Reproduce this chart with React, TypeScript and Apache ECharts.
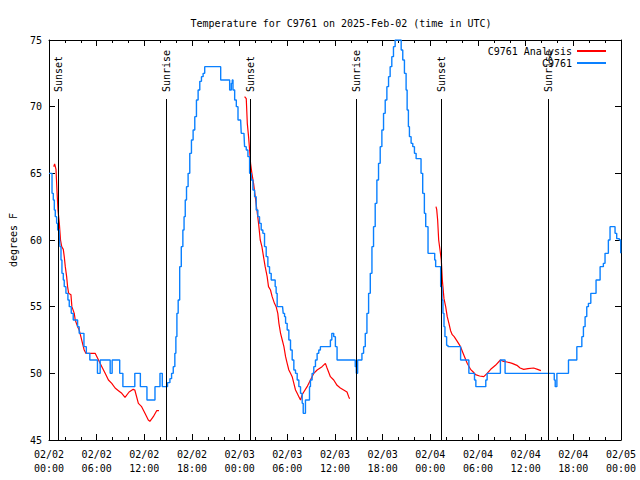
import React, { useEffect, useRef } from "react";
import * as echarts from "echarts";

// Hours since 2025-02-02 00:00 UTC
const START_UTC = Date.UTC(2025, 1, 2, 0, 0);
const X_MIN = 0;
const X_MAX = 72;
const Y_MIN = 45;
const Y_MAX = 75;

const TITLE = "Temperature for C9761 on 2025-Feb-02 (time in UTC)";
const Y_NAME = "degrees F";
const SERIES_ANALYSIS = "C9761 Analysis";
const SERIES_OBS = "C9761";

// Observed station temperatures (C9761)
const obsHours = [
  0, 0.25, 0.38, 0.54, 0.67, 0.79, 0.96, 1.09, 1.3, 1.38, 1.51, 1.63, 1.8, 1.92, 2.13, 2.38, 2.55, 2.8, 3.05, 3.6,
  3.8, 4.4, 4.7, 5.14, 6.1, 6.35, 6.44, 7.7, 7.95, 8.9, 9.3, 10.8, 11.5, 12.33, 13.34, 13.97, 14.26, 14.72, 14.92, 15.22,
  15.43, 15.64, 15.84, 15.97, 16.1, 16.26, 16.45, 16.65, 16.85, 17.0, 17.15, 17.31, 17.51, 17.72, 17.93, 18.14, 18.35, 18.56, 18.77, 18.98,
  19.19, 19.4, 19.6, 21.36, 21.61, 22.53, 22.74, 22.95, 23.07, 23.16, 23.37, 23.58, 23.79, 24.12, 24.2, 24.54, 24.62, 24.83, 25.04, 25.25,
  25.46, 25.67, 25.88, 26.08, 26.29, 26.5, 26.71, 26.92, 27.13, 27.34, 27.55, 27.76, 27.97, 28.2, 28.47, 28.59, 28.72, 29.4, 29.48, 29.65,
  29.78, 29.98, 30.19, 30.4, 30.61, 30.82, 31.03, 31.24, 31.45, 31.66, 31.87, 32.0, 32.28, 32.58, 32.79, 32.91, 33.12, 33.33, 33.54, 33.75,
  33.96, 34.16, 35.29, 35.42, 35.6, 35.84, 36.05, 36.26, 38.35, 38.55, 38.68, 38.85, 39.18, 39.39, 39.6, 39.81, 40.02, 40.23, 40.44, 40.65,
  40.85, 41.06, 41.27, 41.48, 41.69, 41.9, 42.11, 42.32, 42.53, 42.74, 42.94, 43.15, 43.36, 43.57, 44.12, 44.33, 44.53, 44.74, 44.95, 45.08,
  45.24, 45.37, 45.58, 45.79, 46.0, 46.21, 46.62, 46.83, 47.04, 47.25, 47.42, 47.71, 48.38, 48.55, 48.67, 49.21, 49.3, 49.47, 49.59, 49.72,
  49.84, 50.05, 50.22, 51.6, 51.81, 52.64, 52.85, 53.4, 53.56, 53.73, 54.82, 54.98, 55.15, 56.7, 56.82, 57.24, 57.41, 63.43, 63.6, 63.72,
  63.93, 65.27, 65.39, 66.23, 66.44, 66.94, 67.07, 67.27, 67.48, 67.69, 67.9, 68.2, 68.74, 68.86, 69.37, 69.78, 69.99, 70.2, 70.41, 70.62,
  71.12, 71.25, 71.46, 71.79, 71.96, 72,
];
const obsTemps = [
  65, 65, 63.5, 63, 62.25, 61.75, 61.25, 60.75, 60.25, 59.5, 58.5, 57.5, 57, 56.5, 56, 55.5, 55, 54.5, 54, 53.5,
  53, 52, 51.5, 51, 50, 50, 51, 50, 51, 50, 49, 50, 49, 48, 49, 50, 49, 49, 49.3, 49.6,
  50, 50.5, 51.5, 52.75, 54.5, 55.5, 58, 59.5, 60.75, 61.75, 63, 64, 65, 66.5, 67.5, 68.25, 69.25, 70.5, 71.25, 71.9,
  72.25, 72.5, 73, 73, 72, 72, 71.25, 71.75, 72, 71.25, 70.5, 70, 69, 69, 68, 68, 67, 66.75, 66.25, 65,
  64.5, 63.75, 63.25, 62.25, 61.75, 61.25, 60.75, 60.5, 59.5, 58.75, 58, 57.5, 57, 57, 56.5, 56, 55, 55, 54.5, 54.25,
  53.75, 53.25, 52.5, 51.75, 51, 50.25, 50, 49.5, 49, 48.5, 47.75, 47, 48, 48, 49, 49.5, 50, 50.5, 51, 51.5,
  51.75, 52, 52, 52.5, 53, 52.75, 52, 51, 51, 50.5, 50, 51, 51, 51.5, 52, 53, 54.5, 56, 57.5, 59.5,
  61, 62.75, 64.5, 65.75, 67, 68.25, 69.5, 70.5, 71.5, 72.25, 73, 73.75, 74.5, 75, 75, 74.25, 73.5, 72.5, 71.25, 69.75,
  68.5, 67.75, 67.25, 67, 66.5, 66.1, 66.1, 65, 63.5, 62, 61, 59, 59, 58.5, 58, 58, 56.5, 55.5, 54.5, 53.5,
  52.75, 52.1, 52, 52, 51, 51, 50, 50, 49.5, 49, 49, 49.5, 50, 50, 51, 51, 50, 50, 49.5, 49,
  50, 50, 51, 51, 52, 52, 52.75, 53.5, 54.25, 55, 55.25, 56, 56, 57, 58, 58.25, 59, 59, 60, 61,
  61, 60.5, 60.1, 60, 59, 59,
];

// Model analysis temperatures ("-" = gap between runs)
const anaHours = [
  0.59, 0.71, 0.88, 1.0, 1.13, 1.3, 1.45, 1.6, 1.8, 1.92, 2.05, 2.22, 2.34, 2.47, 2.76, 2.88, 3.18, 3.3, 3.6, 3.8,
  4.01, 4.22, 4.43, 4.64, 5.06, 5.81, 6.23, 6.65, 7.07, 7.48, 7.9, 8.32, 8.74, 9.16, 9.57, 10.08, 10.6, 10.8, 11.25, 11.66,
  12.08, 12.5, 12.7, 13.13, 13.55, 13.84, 19,
  24.62, 24.83, 24.96, 25.12, 25.25, 25.37, 25.54, 25.75, 25.96, 26.17, 26.38, 26.59, 26.8, 27.0, 27.21, 27.46, 27.63, 27.88, 28.09, 28.38,
  28.59, 28.8, 28.94, 29.15, 29.36, 29.57, 29.78, 29.98, 30.19, 30.4, 30.61, 30.82, 31.03, 31.24, 31.45, 31.66, 31.87, 32.07, 32.49, 32.91,
  33.33, 33.75, 34.37, 34.79, 35.0, 35.42, 35.84, 36.26, 36.67, 37.09, 37.51, 37.72, 37.84, 43,
  48.71, 48.8, 48.92, 49.05, 49.22, 49.38, 49.51, 49.72, 49.93, 50.13, 50.34, 50.55, 50.76, 51.0, 51.39, 51.8, 52.2, 52.64, 53.06, 53.4,
  53.69, 54.2, 54.73, 55.15, 55.6, 56.2, 56.82, 57.2, 57.66, 58.3, 58.9, 59.3, 59.75, 60.3, 61.0, 61.5, 61.92,
];
const anaTemps: (number | string)[] = [
  65.5, 65.7, 65.3, 63.75, 62.25, 61.25, 60, 59.5, 59.3, 58.75, 58, 57.25, 56.5, 56, 55.9, 55, 54.5, 54, 53.5, 53.25,
  52.75, 52.25, 51.75, 51.5, 51.5, 51.5, 51, 50.5, 50, 49.5, 49.25, 48.9, 48.7, 48.5, 48.2, 48.6, 48.8, 48.75, 47.75, 47.5,
  47, 46.5, 46.4, 46.75, 47.2, 47.2, "-",
  70.75, 70.6, 68.75, 67.75, 66.75, 65.75, 65, 64.25, 63.25, 62.25, 61.25, 60, 59.5, 58.75, 58, 57.25, 56.5, 56.25, 55.75, 55.25,
  55, 54.5, 53.75, 53, 52.5, 52, 51.25, 50.75, 50.25, 50, 49.75, 49.25, 48.75, 48.5, 48.25, 48, 48.4, 48.6, 49, 49.5,
  50, 50.25, 50.5, 50.75, 50.4, 49.75, 49.5, 49.1, 48.9, 48.75, 48.6, 48.25, 48.1, "-",
  62.5, 62.3, 61.5, 60, 59.25, 58.5, 57, 55.6, 55, 54.25, 53.75, 53.2, 52.9, 52.75, 52.4, 52, 51.4, 50.75, 50.3, 50.1,
  49.9, 49.8, 49.75, 50, 50.3, 50.6, 51, 50.9, 50.85, 50.75, 50.6, 50.4, 50.3, 50.35, 50.4, 50.3, 50.2,
];

// Sun events (hours since start)
const sunHours = [1.17, 14.76, 25.29, 38.68, 49.38, 62.8];
const sunLabels = ["Sunset", "Sunrise", "Sunset", "Sunrise", "Sunset", "Sunrise"];

const FONT = '"DejaVu Sans Mono", "Liberation Mono", monospace';
const RED = "#ff0000";
const BLUE = "#0a80ff";

function pad(n: number) {
  return n < 10 ? "0" + n : "" + n;
}
function fmtX(h: number) {
  const d = new Date(START_UTC + h * 3600 * 1000);
  return pad(d.getUTCMonth() + 1) + "/" + pad(d.getUTCDate()) + "\n" + pad(d.getUTCHours()) + ":" + pad(d.getUTCMinutes());
}

export default function App() {
  const ref = useRef<HTMLDivElement>(null);
  useEffect(() => {
    if (!ref.current) return;
    const chart = echarts.init(ref.current, undefined, { renderer: "svg" });
    const obsData = obsHours.map((h, i) => [h, obsTemps[i]]);
    const anaData = anaHours.map((h, i) => [h, anaTemps[i]]);
    const sunData = sunHours.map((h, i) => [h, i]);

    const xBase = {
      type: "value" as const,
      min: X_MIN,
      max: X_MAX,
      interval: 6,
      splitLine: { show: false },
      axisLine: { show: true, onZero: false, lineStyle: { color: "#000", width: 1 } },
      axisTick: { show: true, inside: true, length: 6, lineStyle: { color: "#000" } },
      minorTick: { show: true, splitNumber: 3, length: 3, lineStyle: { color: "#000" } },
    };
    const yBase = {
      type: "value" as const,
      min: Y_MIN,
      max: Y_MAX,
      interval: 5,
      splitLine: { show: false },
      axisLine: { show: true, onZero: false, lineStyle: { color: "#000", width: 1 } },
      axisTick: { show: true, inside: true, length: 6, lineStyle: { color: "#000" } },
    };

    chart.setOption({
      animation: false,
      backgroundColor: "#fff",
      title: {
        text: TITLE,
        left: 336,
        textAlign: "center",
        top: 13,
        textStyle: { fontFamily: FONT, fontSize: 10, fontWeight: "normal", color: "#000" },
      },
      legend: {
        orient: "vertical",
        right: 29,
        top: 40,
        align: "right",
        itemGap: 0,
        itemWidth: 29,
        itemHeight: 2,
        icon: "rect",
        data: [SERIES_ANALYSIS, SERIES_OBS],
        textStyle: { fontFamily: FONT, fontSize: 10, color: "#000", lineHeight: 12 },
      },
      grid: { left: 47, right: 19, top: 40, bottom: 40 },
      xAxis: [
        {
          ...xBase,
          position: "bottom",
          axisLabel: {
            formatter: (v: number) => fmtX(v),
            fontFamily: FONT,
            fontSize: 10,
            color: "#000",
            margin: 7,
            lineHeight: 14,
            showMinLabel: true,
            showMaxLabel: true,
          },
        },
        { ...xBase, position: "top", axisLabel: { show: false } },
      ],
      yAxis: [
        {
          ...yBase,
          position: "left",
          name: Y_NAME,
          nameLocation: "middle",
          nameGap: 31,
          nameTextStyle: { fontFamily: FONT, fontSize: 10, color: "#000" },
          axisLabel: { fontFamily: FONT, fontSize: 10, color: "#000", margin: 7 },
        },
        { ...yBase, position: "right", axisLabel: { show: false } },
      ],
      series: [
        {
          name: SERIES_ANALYSIS,
          type: "line",
          data: anaData,
          showSymbol: false,
          connectNulls: false,
          lineStyle: { color: RED, width: 1.2 },
          itemStyle: { color: RED },
          z: 2,
        },
        {
          name: SERIES_OBS,
          type: "line",
          step: "end",
          data: obsData,
          showSymbol: false,
          lineStyle: { color: BLUE, width: 1.4 },
          itemStyle: { color: BLUE },
          z: 3,
        },
        {
          type: "custom",
          name: "sun",
          data: sunData,
          z: 5,
          encode: { x: 0, y: 1 },
          renderItem: (params: any, api: any) => {
            const t = api.value(0);
            const top = api.coord([t, Y_MAX]);
            const bot = api.coord([t, Y_MIN]);
            const lineTop = top[1] + 59;
            const x = Math.round(bot[0]) + 0.5;
            return {
              type: "group",
              children: [
                {
                  type: "line",
                  shape: { x1: x, y1: lineTop, x2: x, y2: bot[1] },
                  style: { stroke: "#000", lineWidth: 1 },
                },
                {
                  type: "text",
                  x: x,
                  y: lineTop - 7,
                  rotation: Math.PI / 2,
                  style: {
                    text: sunLabels[params.dataIndex],
                    fill: "#000",
                    font: "10px " + FONT,
                    align: "left",
                    verticalAlign: "middle",
                  },
                },
              ],
            };
          },
        },
      ],
    });
    return () => chart.dispose();
  }, []);
  return (
    <div
      ref={ref}
      style={{ position: "fixed", left: 0, top: 0, width: 640, height: 480, background: "#fff" }}
    />
  );
}
